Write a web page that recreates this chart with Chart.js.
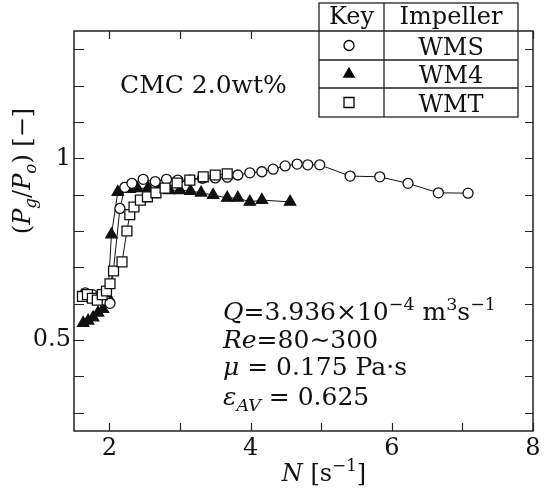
<!DOCTYPE html>
<html lang="en">
<head>
    <meta charset="UTF-8">
    <title>Pg/Po vs N</title>
    <script src="https://cdn.jsdelivr.net/npm/chart.js"></script>
    <style>
        body {
            margin: 0;
            padding: 0;
            background: #fff;
        }
        canvas {
            display: block;
        }
    </style>
</head>
<body>
    <canvas id="powerChart" width="551" height="489"></canvas>
    <script>
        // WMS (open circles)
        const wmsN = [1.66, 1.76, 1.86, 1.94, 2.01, 2.15, 2.22, 2.32, 2.48, 2.65, 2.81, 2.97, 3.14, 3.32, 3.50, 3.67, 3.82, 3.99, 4.16, 4.32, 4.49, 4.66, 4.81, 4.98, 5.41, 5.83, 6.23, 6.66, 7.08];
        const wmsRatio = [0.630, 0.625, 0.620, 0.610, 0.601, 0.862, 0.920, 0.931, 0.942, 0.936, 0.942, 0.940, 0.940, 0.945, 0.946, 0.948, 0.954, 0.960, 0.963, 0.970, 0.979, 0.984, 0.982, 0.982, 0.951, 0.949, 0.931, 0.905, 0.904];
        // WM4 (filled triangles)
        const wm4N = [1.63, 1.70, 1.77, 1.84, 1.91, 1.98, 2.03, 2.12, 2.19, 2.29, 2.40, 2.55, 2.70, 2.85, 3.00, 3.15, 3.30, 3.47, 3.67, 3.82, 3.99, 4.16, 4.56];
        const wm4Ratio = [0.547, 0.553, 0.562, 0.575, 0.585, 0.620, 0.790, 0.907, 0.915, 0.915, 0.917, 0.918, 0.915, 0.912, 0.912, 0.910, 0.905, 0.899, 0.891, 0.891, 0.880, 0.885, 0.880];
        // WMT (open squares)
        const wmtN = [1.62, 1.69, 1.76, 1.83, 1.90, 1.96, 2.01, 2.06, 2.18, 2.25, 2.29, 2.35, 2.44, 2.54, 2.66, 2.79, 2.96, 3.14, 3.33, 3.50, 3.67];
        const wmtRatio = [0.620, 0.625, 0.615, 0.610, 0.625, 0.635, 0.655, 0.690, 0.715, 0.800, 0.845, 0.866, 0.885, 0.894, 0.905, 0.918, 0.932, 0.940, 0.949, 0.954, 0.957];

        const xTicks = [2, 3, 4, 5, 6, 7, 8];
        const xLabels = ['2', '', '4', '', '6', '', '8'];
        const yTicks = [0.3, 0.4, 0.5, 0.6, 0.7, 0.8, 0.9, 1.0, 1.1, 1.2, 1.3];
        const yLabels = ['', '', '0.5', '', '', '', '', '1', '', '', ''];

        const SERIF = '"DejaVu Serif", "Liberation Serif", serif';
        const FS = 24;   // tick labels, axis titles, key
        const FS_TXT = 25; // notes inside the plot

        const pts = (xs, ys) => xs.map((x, i) => ({ x: x, y: ys[i] }));

        // draws text made of pieces (italic / sub / sup)
        function richText(ctx, segs, x, y, size, align) {
            let total = 0;
            const parts = segs.map(s => {
                const small = s.sub || s.sup;
                const font = (s.it ? 'italic ' : '') + (small ? size * 0.7 : size) + 'px ' + SERIF;
                ctx.font = font;
                const w = ctx.measureText(s.t).width;
                total += w;
                return { s: s, font: font, w: w };
            });
            let cx = align === 'center' ? x - total / 2 : x;
            ctx.textAlign = 'left';
            ctx.textBaseline = 'alphabetic';
            parts.forEach(p => {
                ctx.font = p.font;
                const dy = p.s.sub ? size * 0.25 : (p.s.sup ? -size * 0.42 : 0);
                ctx.fillText(p.s.t, cx, y + dy);
                cx += p.w;
            });
        }

        function marker(ctx, kind, x, y) {
            ctx.save();
            ctx.lineWidth = 1.3;
            ctx.strokeStyle = '#000';
            ctx.beginPath();
            if (kind === 'circle') {
                ctx.arc(x, y, 5, 0, Math.PI * 2);
                ctx.fillStyle = '#fff';
                ctx.fill();
                ctx.stroke();
            } else if (kind === 'triangle') {
                ctx.moveTo(x, y - 6);
                ctx.lineTo(x + 5.2, y + 3);
                ctx.lineTo(x - 5.2, y + 3);
                ctx.closePath();
                ctx.fillStyle = '#000';
                ctx.fill();
                ctx.stroke();
            } else {
                ctx.rect(x - 5, y - 5, 10, 10);
                ctx.fillStyle = '#fff';
                ctx.fill();
                ctx.stroke();
            }
            ctx.restore();
        }

        const framePlugin = {
            id: 'frame',
            beforeDatasetsDraw(chart) {
                const ctx = chart.ctx;
                const a = chart.chartArea;
                const xs = chart.scales.x;
                const ys = chart.scales.y;
                ctx.save();
                ctx.strokeStyle = '#222';
                ctx.lineWidth = 1.5;
                ctx.strokeRect(a.left, a.top, a.right - a.left, a.bottom - a.top);
                ctx.lineWidth = 1.2;
                ctx.beginPath();
                xTicks.forEach(v => {
                    const px = Math.round(xs.getPixelForValue(v)) + 0.5;
                    ctx.moveTo(px, a.bottom);
                    ctx.lineTo(px, a.bottom - 8);
                    ctx.moveTo(px, a.top);
                    ctx.lineTo(px, a.top + 8);
                });
                yTicks.forEach(v => {
                    const py = Math.round(ys.getPixelForValue(v)) + 0.5;
                    ctx.moveTo(a.left, py);
                    ctx.lineTo(a.left + 10, py);
                    ctx.moveTo(a.right, py);
                    ctx.lineTo(a.right - 8, py);
                });
                ctx.stroke();
                ctx.restore();
            },
            afterDraw(chart) {
                const ctx = chart.ctx;
                ctx.save();
                ctx.fillStyle = '#111';

                // axis titles
                richText(ctx, [
                    { t: 'N', it: true }, { t: ' [s' }, { t: '\u22121', sup: true }, { t: ']' }
                ], 324, 481, FS, 'center');

                ctx.save();
                ctx.translate(30, 171);
                ctx.rotate(-Math.PI / 2);
                richText(ctx, [
                    { t: '(' }, { t: 'P', it: true }, { t: 'g', it: true, sub: true }, { t: '/' },
                    { t: 'P', it: true }, { t: 'o', it: true, sub: true }, { t: ') [\u2212]' }
                ], 0, 0, FS, 'center');
                ctx.restore();

                // annotations
                richText(ctx, [{ t: 'CMC 2.0wt%' }], 120, 93, FS_TXT, 'left');
                richText(ctx, [
                    { t: 'Q', it: true }, { t: '=3.936\u00d710' }, { t: '\u22124', sup: true },
                    { t: ' m' }, { t: '3', sup: true }, { t: 's' }, { t: '\u22121', sup: true }
                ], 223, 320, FS_TXT, 'left');
                richText(ctx, [{ t: 'Re', it: true }, { t: '=80\u223c300' }], 223, 348, FS_TXT, 'left');
                richText(ctx, [{ t: '\u03bc', it: true }, { t: ' = 0.175 Pa\u00b7s' }], 223, 375, FS_TXT, 'left');
                richText(ctx, [
                    { t: '\u03b5', it: true }, { t: 'AV', it: true, sub: true }, { t: ' = 0.625' }
                ], 223, 405, FS_TXT, 'left');

                // key table
                const tx = [319, 384, 518];
                const ty = [3, 31, 60, 88, 117];
                ctx.fillStyle = '#fff';
                ctx.fillRect(tx[0], ty[0], tx[2] - tx[0], ty[4] - ty[0]);
                ctx.strokeStyle = '#222';
                ctx.lineWidth = 1.3;
                ctx.strokeRect(tx[0], ty[0], tx[2] - tx[0], ty[4] - ty[0]);
                ctx.beginPath();
                ctx.moveTo(tx[1], ty[0]);
                ctx.lineTo(tx[1], ty[4]);
                for (let i = 1; i < 4; i++) {
                    ctx.moveTo(tx[0], ty[i]);
                    ctx.lineTo(tx[2], ty[i]);
                }
                ctx.stroke();
                ctx.fillStyle = '#111';
                richText(ctx, [{ t: 'Key' }], (tx[0] + tx[1]) / 2, 24, FS, 'center');
                richText(ctx, [{ t: 'Impeller' }], (tx[1] + tx[2]) / 2, 24, FS, 'center');
                const names = ['WMS', 'WM4', 'WMT'];
                const kinds = ['circle', 'triangle', 'rect'];
                names.forEach((n, i) => {
                    ctx.fillStyle = '#111';
                    richText(ctx, [{ t: n }], (tx[1] + tx[2]) / 2, ty[i + 2] - 5, FS, 'center');
                    marker(ctx, kinds[i], 349, (ty[i + 1] + ty[i + 2]) / 2);
                });
                ctx.restore();
            }
        };

        const common = {
            showLine: true,
            borderColor: '#111',
            borderWidth: 1,
            pointBorderColor: '#111',
            pointBorderWidth: 1.3,
            tension: 0
        };

        new Chart(document.getElementById('powerChart'), {
            type: 'scatter',
            data: {
                datasets: [
                    Object.assign({
                        label: 'WMT',
                        data: pts(wmtN, wmtRatio),
                        pointStyle: 'rect',
                        pointRadius: 7,
                        pointBackgroundColor: '#fff'
                    }, common),
                    Object.assign({
                        label: 'WMS',
                        data: pts(wmsN, wmsRatio),
                        pointStyle: 'circle',
                        pointRadius: 5,
                        pointBackgroundColor: '#fff'
                    }, common),
                    Object.assign({
                        label: 'WM4',
                        data: pts(wm4N, wm4Ratio),
                        pointStyle: 'triangle',
                        pointRadius: 6.5,
                        pointBackgroundColor: '#111'
                    }, common)
                ]
            },
            options: {
                responsive: false,
                animation: false,
                layout: { padding: { top: 31, right: 18, left: 0, bottom: 0 } },
                plugins: {
                    legend: { display: false },
                    tooltip: { enabled: false }
                },
                scales: {
                    x: {
                        type: 'linear',
                        min: 1.5,
                        max: 8,
                        grid: { display: false, drawTicks: false },
                        border: { display: false },
                        afterBuildTicks: axis => { axis.ticks = xTicks.map(v => ({ value: v })); },
                        afterFit: axis => { axis.height = 58; },
                        ticks: {
                            padding: 3,
                            color: '#111',
                            maxRotation: 0,
                            autoSkip: false,
                            font: { family: SERIF, size: FS },
                            callback: (v, i) => xLabels[i]
                        }
                    },
                    y: {
                        type: 'linear',
                        min: 0.25,
                        max: 1.35,
                        grid: { display: false, drawTicks: false },
                        border: { display: false },
                        afterBuildTicks: axis => { axis.ticks = yTicks.map(v => ({ value: v })); },
                        afterFit: axis => { axis.width = 74; },
                        ticks: {
                            padding: 3,
                            color: '#111',
                            autoSkip: false,
                            font: { family: SERIF, size: FS },
                            callback: (v, i) => yLabels[i]
                        }
                    }
                }
            },
            plugins: [framePlugin]
        });
    </script>
</body>
</html>
